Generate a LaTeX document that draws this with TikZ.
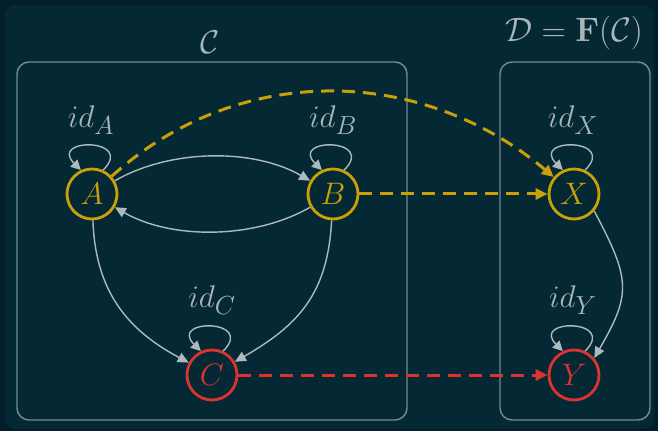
\documentclass[tikz,border=0pt]{standalone}
\usetikzlibrary{arrows.meta}
\definecolor{bgout}{RGB}{2,30,40}
\definecolor{bgin}{RGB}{4,41,53}
\definecolor{gold}{RGB}{201,160,8}
\definecolor{redc}{RGB}{220,50,48}
\definecolor{edgegray}{RGB}{172,186,190}
\definecolor{boxgray}{RGB}{120,138,145}
\definecolor{txtgray}{RGB}{172,182,185}
\newcommand{\mysc}[2]{\scalebox{#1}{#2}}
\begin{document}
\begin{tikzpicture}[x=1pt,y=1pt,
  font=\fontsize{24.88}{30}\selectfont,
  obj/.style={circle, minimum size=50pt, inner sep=0pt, line width=2.8pt},
  yobj/.style={obj, draw=gold, text=gold},
  robj/.style={obj, draw=redc, text=redc},
  lbl/.style={text=txtgray, inner sep=0pt},
  catbox/.style={draw=boxgray, line width=1.4pt, rounded corners=12pt},
  mor/.style={draw=edgegray, line width=1.4pt, -{Triangle[length=11pt,width=10pt]}},
  idloop/.style={draw=edgegray, line width=1.4pt, -{Triangle[length=10pt,width=10pt]}},
  ymap/.style={draw=gold, line width=3pt, dash pattern=on 13pt off 8pt, -{Triangle[length=12pt,width=11pt]}},
  rmap/.style={draw=redc, line width=3pt, dash pattern=on 13pt off 8pt, -{Triangle[length=12pt,width=11pt]}}
]
\useasboundingbox (0,0) rectangle (658,431);
\fill[bgout] (0,0) rectangle (658,431);
\fill[bgin, rounded corners=10pt] (5,2) rectangle (654,426);

% category boxes
\draw[catbox] (17,11) rectangle (407,369);
\draw[catbox] (500,11) rectangle (650,369);
\node[lbl] (tC) at (210,389) {\mysc{1.32}{$\mathcal{C}$}};
\node[lbl] (tD) at (574,398) {\mysc{1.36}{$\mathcal{D}=\mathbf{F}(\mathcal{C})$}};

% objects
\node[yobj] (A) at (92,237) {\mysc{1.25}{$A$}};
\node[yobj] (B) at (333,237) {\mysc{1.25}{$B$}};
\node[yobj] (X) at (574,237) {\mysc{1.25}{$X$}};
\node[robj] (C) at (212,56) {\mysc{1.25}{$C$}};
\node[robj] (Y) at (574,56) {\mysc{1.25}{$Y$}};

% identity labels
\node[lbl] (iA) at (91,311) {\mysc{1.26}{$id_A$}};
\node[lbl] (iB) at (333,311) {\mysc{1.26}{$id_B$}};
\node[lbl] (iX) at (573,311) {\mysc{1.26}{$id_X$}};
\node[lbl] (iC) at (212,131) {\mysc{1.26}{$id_C$}};
\node[lbl] (iY) at (573,131) {\mysc{1.26}{$id_Y$}};

% identity loops
\foreach \n in {A,B,C,X,Y}{
  \draw[idloop] (\n.65) .. controls +(45:46) and +(135:46) .. (\n.115);
}

% morphisms
\draw[mor] (A) to[out=30,in=150,looseness=0.85] (B);
\draw[mor] (B) to[out=-150,in=-30,looseness=0.85] (A);
\draw[mor] (A) to[out=-88,in=152,looseness=1.05] (C);
\draw[mor] (B) to[out=-93,in=30,looseness=1.1] (C);
\draw[mor] (X.-40) .. controls +(-62:78) and +(60:74) .. (Y.40);

% functor mapping
\draw[ymap] (A) to[out=42,in=140] (X);
\draw[ymap] (B) -- (X);
\draw[rmap] (C) -- (Y);
\end{tikzpicture}
\end{document}
